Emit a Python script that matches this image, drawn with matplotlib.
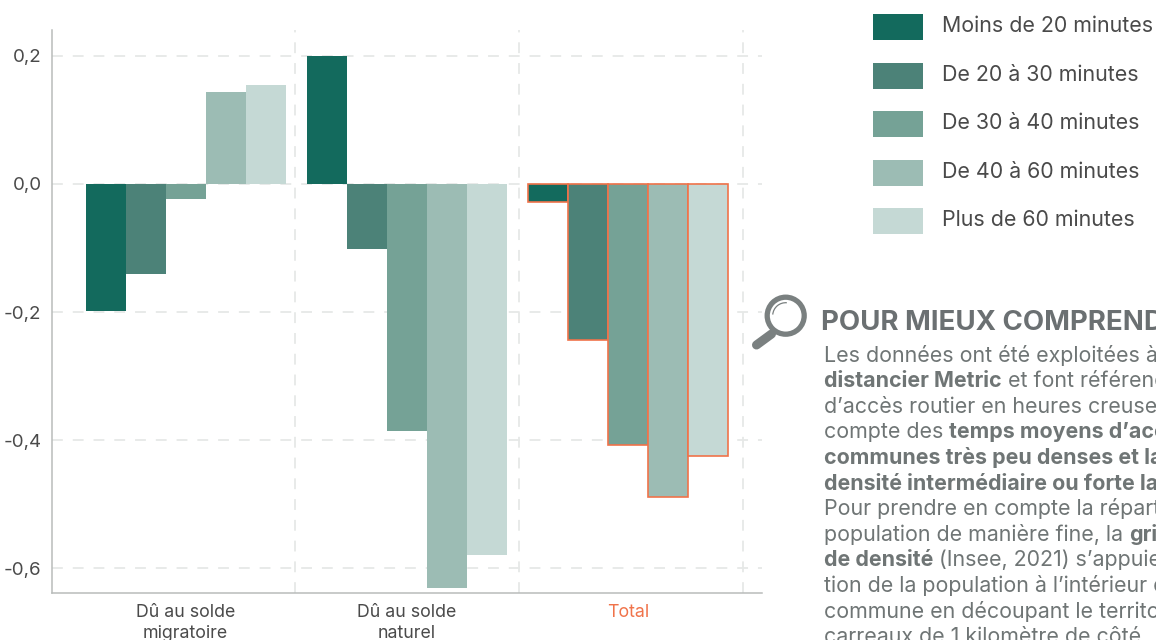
import numpy as np
import matplotlib
matplotlib.use("Agg")
import matplotlib.pyplot as plt
from matplotlib.patches import Rectangle, Circle, Arc

plt.rcParams["font.family"] = ["Inter", "DejaVu Sans"]

categories = ["Dû au solde\nmigratoire", "Dû au solde\nnaturel", "Total"]
series_names = ["Moins de 20 minutes", "De 20 à 30 minutes", "De 30 à 40 minutes",
                "De 40 à 60 minutes", "Plus de 60 minutes"]
colors = ["#136a5d", "#4c8278", "#75a296", "#9cbcb4", "#c5d9d5"]
moins_20 = [-0.198, 0.200, -0.028]
de_20_30 = [-0.141, -0.102, -0.244]
de_30_40 = [-0.023, -0.386, -0.408]
de_40_60 = [0.144, -0.631, -0.489]
plus_60 = [0.155, -0.580, -0.425]
yticks = [-0.6, -0.4, -0.2, 0.0, 0.2]
ytick_labels = ["-0,6", "-0,4", "-0,2", "0,0", "0,2"]
separators = [0.494, 1.505, 2.516]

ORANGE = "#f0734a"
GRID = "#e6e8e7"
W, H = 1156, 640
NOTE_SIZE = 15.4

title = "POUR MIEUX COMPRENDRE"
# (text, bold) runs for each line of the note
note_lines = [
    [("Les données ont été exploitées à partir du", False)],
    [("distancier Metric", True), (" et font référence au temps", False)],
    [("d’accès routier en heures creuses", False)],
    [("compte des ", False), ("temps moyens d’accès", True)],
    [("communes très peu denses et la", True)],
    [("densité intermédiaire ou forte la", True)],
    [("Pour prendre en compte la répartition", False)],
    [("population de manière fine, la ", False), ("grille", True)],
    [("de densité", True), (" (Insee, 2021) s’appuie sur", False)],
    [("tion de la population à l’intérieur de la", False)],
    [("commune en découpant le territoire en", False)],
    [("carreaux de 1 kilomètre de côté.", False)],
]

fig = plt.figure(figsize=(W / 100, H / 100), dpi=100)
ax = fig.add_axes([52 / W, 1 - 593 / H, 710 / W, 563 / H])

series = [moins_20, de_20_30, de_30_40, de_40_60, plus_60]
x = np.arange(len(categories))
width = 0.1806
for i, values in enumerate(series):
    pos = x + (i - 2) * width
    ax.bar(pos[:2], values[:2], width, color=colors[i], zorder=3)
for i, values in enumerate(series):
    pos = x + (i - 2) * width
    ax.bar(pos[2], values[2], width, color=colors[i], edgecolor=ORANGE, linewidth=1.2, zorder=3)

ax.set_xlim(-0.603, 2.603)
ax.set_ylim(-0.639, 0.2406)
for y in yticks:
    ax.axhline(y, color=GRID, lw=1.3, dashes=(6, 5.5), zorder=1)
for s in separators:
    ax.axvline(s, color=GRID, lw=1.3, dashes=(6, 5.5), zorder=1)

ax.spines[["top", "right"]].set_visible(False)
ax.spines[["left", "bottom"]].set_color("#b9bcbb")
ax.spines[["left", "bottom"]].set_linewidth(1.1)
ax.set_yticks(yticks, ytick_labels, fontsize=13.5, color="#4a4a4a")
ax.set_xticks(x, categories, fontsize=12.8, color="#4a4a4a", linespacing=1.3)
ax.get_xticklabels()[2].set_color(ORANGE)
ax.tick_params(length=0)
ax.tick_params(axis="x", pad=8)
ax.tick_params(axis="y", pad=7.5)

# overlay in pixel coordinates for the legend and the side note
ov = fig.add_axes([0, 0, 1, 1], facecolor="none")
ov.set_xlim(0, W)
ov.set_ylim(H, 0)
ov.axis("off")

for i, name in enumerate(series_names):
    top = 14 + i * 48.5
    ov.add_patch(Rectangle((873, top), 50, 26, color=colors[i], lw=0))
    ov.text(942, top + 12.4, name, fontsize=15.4, color="#4a4a4a", va="center", clip_on=False)

GREY = "#7a8080"
ov.add_patch(Circle((785.7, 315.7), 18.5, fill=False, ec=GREY, lw=3.8))
ov.add_patch(Arc((785.7, 315.7), 26, 26, theta1=185, theta2=275, ec=GREY, lw=0.9))
ov.plot([756.5, 771.5], [345, 334], color=GREY, lw=6.5, solid_capstyle="round")

ov.text(821, 323, title, fontsize=19.9, fontweight="bold", color="#6b7072", va="center")

renderer = fig.canvas.get_renderer()


def run_width(txt, weight):
    # spaces at the ends are not measured, so put a bar after the run
    probe = ov.text(0, 0, txt + "|", fontsize=NOTE_SIZE, fontweight=weight)
    bar = ov.text(0, 0, "|", fontsize=NOTE_SIZE, fontweight=weight)
    w = probe.get_window_extent(renderer).width - bar.get_window_extent(renderer).width
    probe.remove()
    bar.remove()
    return w


for n, runs in enumerate(note_lines):
    px = 824
    base = 361.5 + n * 25.6
    for txt, bold in runs:
        weight = "bold" if bold else "normal"
        ov.text(px, base, txt, fontsize=NOTE_SIZE, color="#6f7575", va="baseline", fontweight=weight)
        px += run_width(txt, weight)

fig.savefig("out.png", dpi=100)
